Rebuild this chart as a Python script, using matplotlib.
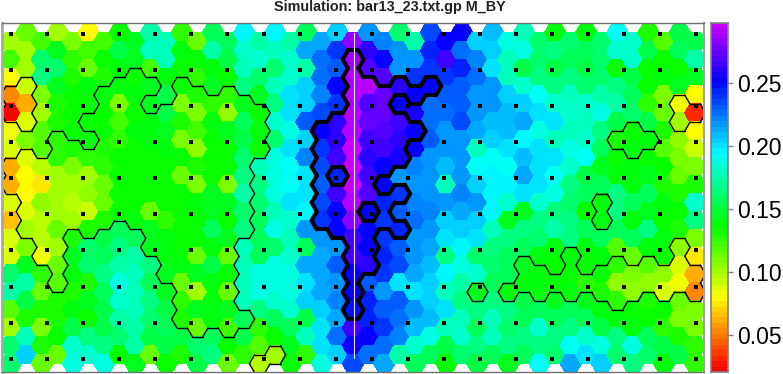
import colorsys
import matplotlib
matplotlib.use("Agg")
import matplotlib.pyplot as plt
import numpy as np
from matplotlib.collections import LineCollection, PolyCollection
from matplotlib.colors import ListedColormap

plt.rcParams['font.family'] = ['Liberation Sans', 'DejaVu Sans']

# one list per hexagon column, top row first
col00 = [.097, .117, .076, .05, .02, .078, .085, .058, .058, .085, .065, .085, .085, .155, .165, .115, .097, .155, .155]
col01 = [.11, .095, .095, .09, .058, .085, .103, .085, .076, .076, .085, .097, .105, .14, .165, .145, .125, .17, .197]
col02 = [.117, .155, .16, .103, .097, .115, .115, .093, .07, .1, .093, .093, .08, .12, .11, .125, .105, .125, .11]
col03 = [.095, .14, .155, .14, .125, .125, .12, .12, .095, .095, .095, .11, .097, .11, .115, .125, .125, .128, .11]
col04 = [.103, .12, .125, .13, .13, .128, .125, .105, .097, .092, .095, .125, .14, .135, .125, .135, .145, .175, .178]
col05 = [.076, .117, .11, .135, .128, .13, .13, .12, .095, .1, .09, .125, .155, .155, .125, .14, .128, .16, .175]
col06 = [.117, .13, .125, .135, .128, .13, .125, .12, .11, .11, .125, .145, .15, .16, .15, .145, .145, .16, .18]
col07 = [.13, .145, .135, .132, .105, .117, .12, .128, .128, .13, .13, .15, .16, .165, .18, .175, .165, .155, .13]
col08 = [.14, .14, .13, .135, .13, .132, .128, .128, .13, .13, .135, .15, .165, .17, .17, .17, .165, .165, .14]
col09 = [.165, .17, .117, .138, .14, .135, .135, .13, .13, .13, .11, .138, .138, .16, .15, .16, .155, .145, .11]
col10 = [.17, .17, .135, .145, .145, .138, .132, .128, .13, .13, .12, .132, .132, .14, .14, .145, .15, .145, .128]
col11 = [.12, .135, .13, .13, .105, .125, .105, .128, .11, .13, .13, .13, .13, .135, .11, .12, .125, .145, .125]
col12 = [.11, .13, .12, .125, .103, .117, .1, .125, .103, .132, .13, .13, .11, .14, .095, .138, .11, .155, .145]
col13 = [.15, .165, .135, .138, .12, .135, .13, .13, .13, .14, .138, .15, .135, .145, .135, .135, .135, .15, .16]
col14 = [.15, .145, .13, .12, .1, .14, .13, .13, .105, .138, .13, .14, .11, .128, .11, .138, .117, .128, .11]
col15 = [.187, .175, .17, .16, .14, .15, .145, .155, .16, .165, .155, .16, .17, .17, .17, .17, .15, .145, .12]
col16 = [.165, .175, .155, .14, .13, .135, .13, .17, .16, .155, .15, .15, .15, .18, .18, .16, .12, .115, .092]
col17 = [.187, .17, .155, .17, .16, .175, .155, .18, .178, .18, .17, .178, .155, .178, .18, .175, .15, .128, .097]
col18 = [.165, .175, .175, .19, .19, .18, .19, .185, .185, .19, .175, .17, .175, .18, .18, .175, .15, .14, .128]
col19 = [.15, .205, .165, .197, .195, .22, .197, .213, .19, .193, .187, .21, .15, .203, .19, .198, .145, .17, .12]
col20 = [.205, .215, .217, .213, .225, .242, .23, .225, .22, .225, .228, .21, .205, .203, .203, .197, .19, .19, .178]
col21 = [.197, .228, .22, .242, .23, .25, .25, .252, .235, .252, .24, .242, .21, .22, .207, .213, .203, .215, .197]
col22 = [.27, .275, .28, .28, .28, .28, .285, .29, .285, .28, .27, .255, .255, .242, .242, .238, .255, .24, .225]
col23 = [.207, .25, .26, .28, .26, .262, .255, .25, .255, .26, .24, .242, .242, .25, .22, .232, .235, .24, .217]
col24 = [.213, .242, .26, .263, .263, .26, .255, .242, .24, .235, .228, .228, .235, .228, .21, .22, .228, .215, .203]
col25 = [.155, .21, .21, .25, .242, .255, .25, .245, .21, .228, .22, .235, .22, .225, .19, .22, .217, .213, .165]
col26 = [.165, .21, .23, .242, .245, .242, .24, .213, .207, .213, .215, .207, .207, .203, .19, .207, .2, .175, .15]
col27 = [.225, .235, .228, .242, .217, .217, .222, .21, .207, .21, .213, .21, .203, .2, .195, .197, .2, .178, .15]
col28 = [.24, .255, .23, .22, .217, .21, .207, .2, .17, .21, .195, .19, .16, .188, .17, .19, .17, .145, .13]
col29 = [.242, .217, .232, .22, .22, .225, .207, .21, .207, .213, .205, .195, .188, .18, .165, .16, .17, .175, .155]
col30 = [.197, .213, .215, .21, .21, .203, .17, .185, .197, .207, .195, .19, .155, .175, .14, .16, .15, .16, .145]
col31 = [.2, .197, .19, .207, .21, .2, .195, .185, .188, .187, .187, .17, .16, .155, .15, .16, .17, .17, .15]
col32 = [.178, .17, .17, .197, .2, .2, .19, .185, .187, .175, .14, .16, .15, .15, .135, .16, .155, .16, .14]
col33 = [.17, .18, .145, .175, .197, .205, .187, .2, .203, .19, .14, .16, .15, .14, .132, .145, .15, .16, .15]
col34 = [.155, .155, .16, .185, .19, .18, .19, .19, .19, .175, .16, .155, .135, .135, .135, .15, .175, .16, .185]
col35 = [.135, .16, .145, .16, .175, .19, .17, .19, .185, .18, .16, .165, .135, .13, .13, .14, .15, .16, .155]
col36 = [.155, .15, .16, .17, .175, .17, .178, .175, .16, .155, .16, .16, .135, .13, .135, .15, .16, .185, .203]
col37 = [.135, .15, .145, .155, .175, .17, .175, .185, .145, .15, .128, .15, .135, .13, .12, .14, .15, .175, .19]
col38 = [.155, .155, .155, .165, .18, .16, .15, .14, .15, .135, .135, .15, .135, .13, .125, .135, .145, .18, .197]
col39 = [.185, .175, .128, .16, .165, .145, .125, .13, .135, .16, .16, .15, .115, .12, .1, .12, .135, .16, .155]
col40 = [.175, .175, .145, .15, .155, .13, .132, .132, .135, .15, .135, .15, .11, .105, .1, .13, .135, .18, .16]
col41 = [.125, .145, .13, .13, .12, .145, .135, .128, .14, .15, .14, .16, .135, .115, .1, .125, .13, .15, .155]
col42 = [.115, .128, .135, .105, .11, .125, .115, .13, .125, .135, .13, .135, .13, .1, .085, .13, .12, .145, .135]
col43 = [.145, .15, .128, .14, .08, .095, .1, .105, .11, .125, .13, .125, .1, .085, .08, .11, .105, .125, .145]
col44 = [.145, .165, .14, .076, .03, .076, .09, .103, .125, .175, .16, .105, .07, .06, .053, .103, .103, .12, .12]

# (column, first row, last row) of the hexagons inside the contours
thin_ranges = [(0, 3, 4), (1, 3, 5), (0, 7, 8), (1, 7, 11), (2, 7, 12), (3, 6, 14), (4, 6, 10), (5, 5, 5),
               (5, 7, 11), (6, 3, 10), (7, 3, 10), (8, 2, 10), (9, 3, 3), (9, 5, 12), (10, 4, 13), (11, 3, 16),
               (12, 3, 16), (13, 4, 16), (14, 3, 16), (15, 4, 11), (15, 16, 16), (16, 4, 6), (16, 18, 18),
               (17, 18, 18), (39, 6, 6), (40, 5, 6), (41, 6, 6), (43, 4, 5), (44, 4, 4), (38, 9, 10), (30, 14, 14),
               (32, 14, 14), (33, 13, 14), (34, 13, 14), (35, 14, 14), (36, 12, 14), (37, 14, 14), (38, 13, 14),
               (39, 13, 15), (40, 13, 14), (41, 13, 14), (42, 13, 14), (43, 12, 14), (44, 13, 14)]
thick_ranges = [(20, 5, 10), (21, 5, 7), (21, 9, 11), (22, 1, 15), (23, 3, 9), (23, 11, 13), (24, 3, 7), (24, 9, 10),
                (25, 3, 3), (25, 5, 7), (25, 9, 9), (25, 11, 11), (26, 3, 3), (26, 5, 5), (27, 3, 3)]

dot_cols = [2.32 * i for i in range(20)]
dot_rows = [-0.42, 1.6, 3.61, 5.62, 7.63, 9.64, 11.65, 13.72, 15.73, 17.74]
line_x = [22.08, 22.08]
line_y = [-0.47, 17.7]
cbar_ticks = [0.05, 0.10, 0.15, 0.20, 0.25]
vmin = 0.0206
vmax = 0.2976
title = "Simulation: bar13_23.txt.gp M_BY"

columns = [col00, col01, col02, col03, col04, col05, col06, col07, col08, col09, col10, col11, col12, col13, col14,
           col15, col16, col17, col18, col19, col20, col21, col22, col23, col24, col25, col26, col27, col28, col29,
           col30, col31, col32, col33, col34, col35, col36, col37, col38, col39, col40, col41, col42, col43, col44]

W, H = 783, 374
# colour bar runs red to violet, it stops short of magenta
cmap = ListedColormap([colorsys.hsv_to_rgb(i / 63 * 0.796, 1, 1) for i in range(64)])
# flat-topped hexagon in units of column and row spacing
corners = [(-2 / 3, 0), (-1 / 3, -0.5), (1 / 3, -0.5), (2 / 3, 0), (1 / 3, 0.5), (-1 / 3, 0.5)]


def hexCorners(col, row):
    yc = row - 0.5 if col % 2 else row
    return [(col + dx, yc + dy) for dx, dy in corners]


def outlineSegments(ranges):
    # an edge used by only one hexagon of the region lies on its border
    edges = {}
    for col, first, last in ranges:
        for row in range(first, last + 1):
            pts = hexCorners(col, row)
            for i in range(6):
                a, b = pts[i], pts[(i + 1) % 6]
                key = tuple(sorted([(round(a[0], 3), round(a[1], 3)), (round(b[0], 3), round(b[1], 3))]))
                edges[key] = edges.get(key, 0) + 1
    return [k for k, n in edges.items() if n == 1]


fig = plt.figure(figsize=(W / 100, H / 100), dpi=100)
ax = fig.add_axes([2 / W, 1 - 372 / H, 702 / W, 349 / H])

verts = []
values = []
for col, vals in enumerate(columns):
    for row, v in enumerate(vals):
        verts.append(hexCorners(col, row))
        # values were first read on a slightly wrong scale, 1.045 lines them up with the colour bar
        values.append(min(vmax, vmin + 1.045 * (v - 0.02)))

hexes = PolyCollection(verts, array=np.array(values), cmap=cmap, edgecolors='face', linewidths=0.4, antialiaseds=False)
hexes.set_clim(vmin, vmax)
ax.add_collection(hexes)

ax.add_collection(LineCollection(outlineSegments(thin_ranges), colors='black', linewidths=1.0, capstyle='round'))
ax.add_collection(LineCollection(outlineSegments(thick_ranges), colors='black', linewidths=2.9, capstyle='round'))

dx, dy = np.meshgrid(dot_cols, dot_rows)
ax.scatter(dx.ravel(), dy.ravel(), marker='s', s=11, c='black', linewidths=0, zorder=5)
ax.plot(line_x, line_y, color='#e6dcff', lw=0.8, zorder=6)

ax.set_xlim(-9 / 15.55, 693 / 15.55)
ax.set_ylim(330.5 / 17.9, -18.5 / 17.9)
ax.set_xticks([])
ax.set_yticks([])
for side in ax.spines:
    ax.spines[side].set_color('#707070')
    ax.spines[side].set_linewidth(1.0)
ax.spines['left'].set_color('#a8a8a8')
ax.spines['left'].set_linewidth(2.0)
ax.spines['right'].set_color('#a0a0a0')
ax.spines['right'].set_linewidth(1.5)

fig.text(390 / W, 1 - 7.5 / H, title, ha='center', va='center', fontsize=10.4, fontweight='bold', color='#222222')

cax = fig.add_axes([711 / W, 1 - 372 / H, 17 / W, 349 / H])
cax.imshow(np.linspace(vmax, vmin, 256).reshape(-1, 1), cmap=cmap, vmin=vmin, vmax=vmax, aspect='auto',
           extent=[0, 1, vmin, vmax], interpolation='nearest')
cax.set_xticks([])
cax.yaxis.tick_right()
cax.set_yticks(cbar_ticks)
cax.set_yticklabels(['%.2f' % t for t in cbar_ticks], fontsize=16.5)
cax.tick_params(axis='y', length=3.6, width=1, color='#808080', pad=3)
for side in cax.spines:
    cax.spines[side].set_color('#808080')
    cax.spines[side].set_linewidth(1.2)

fig.savefig('out.png', dpi=100)
